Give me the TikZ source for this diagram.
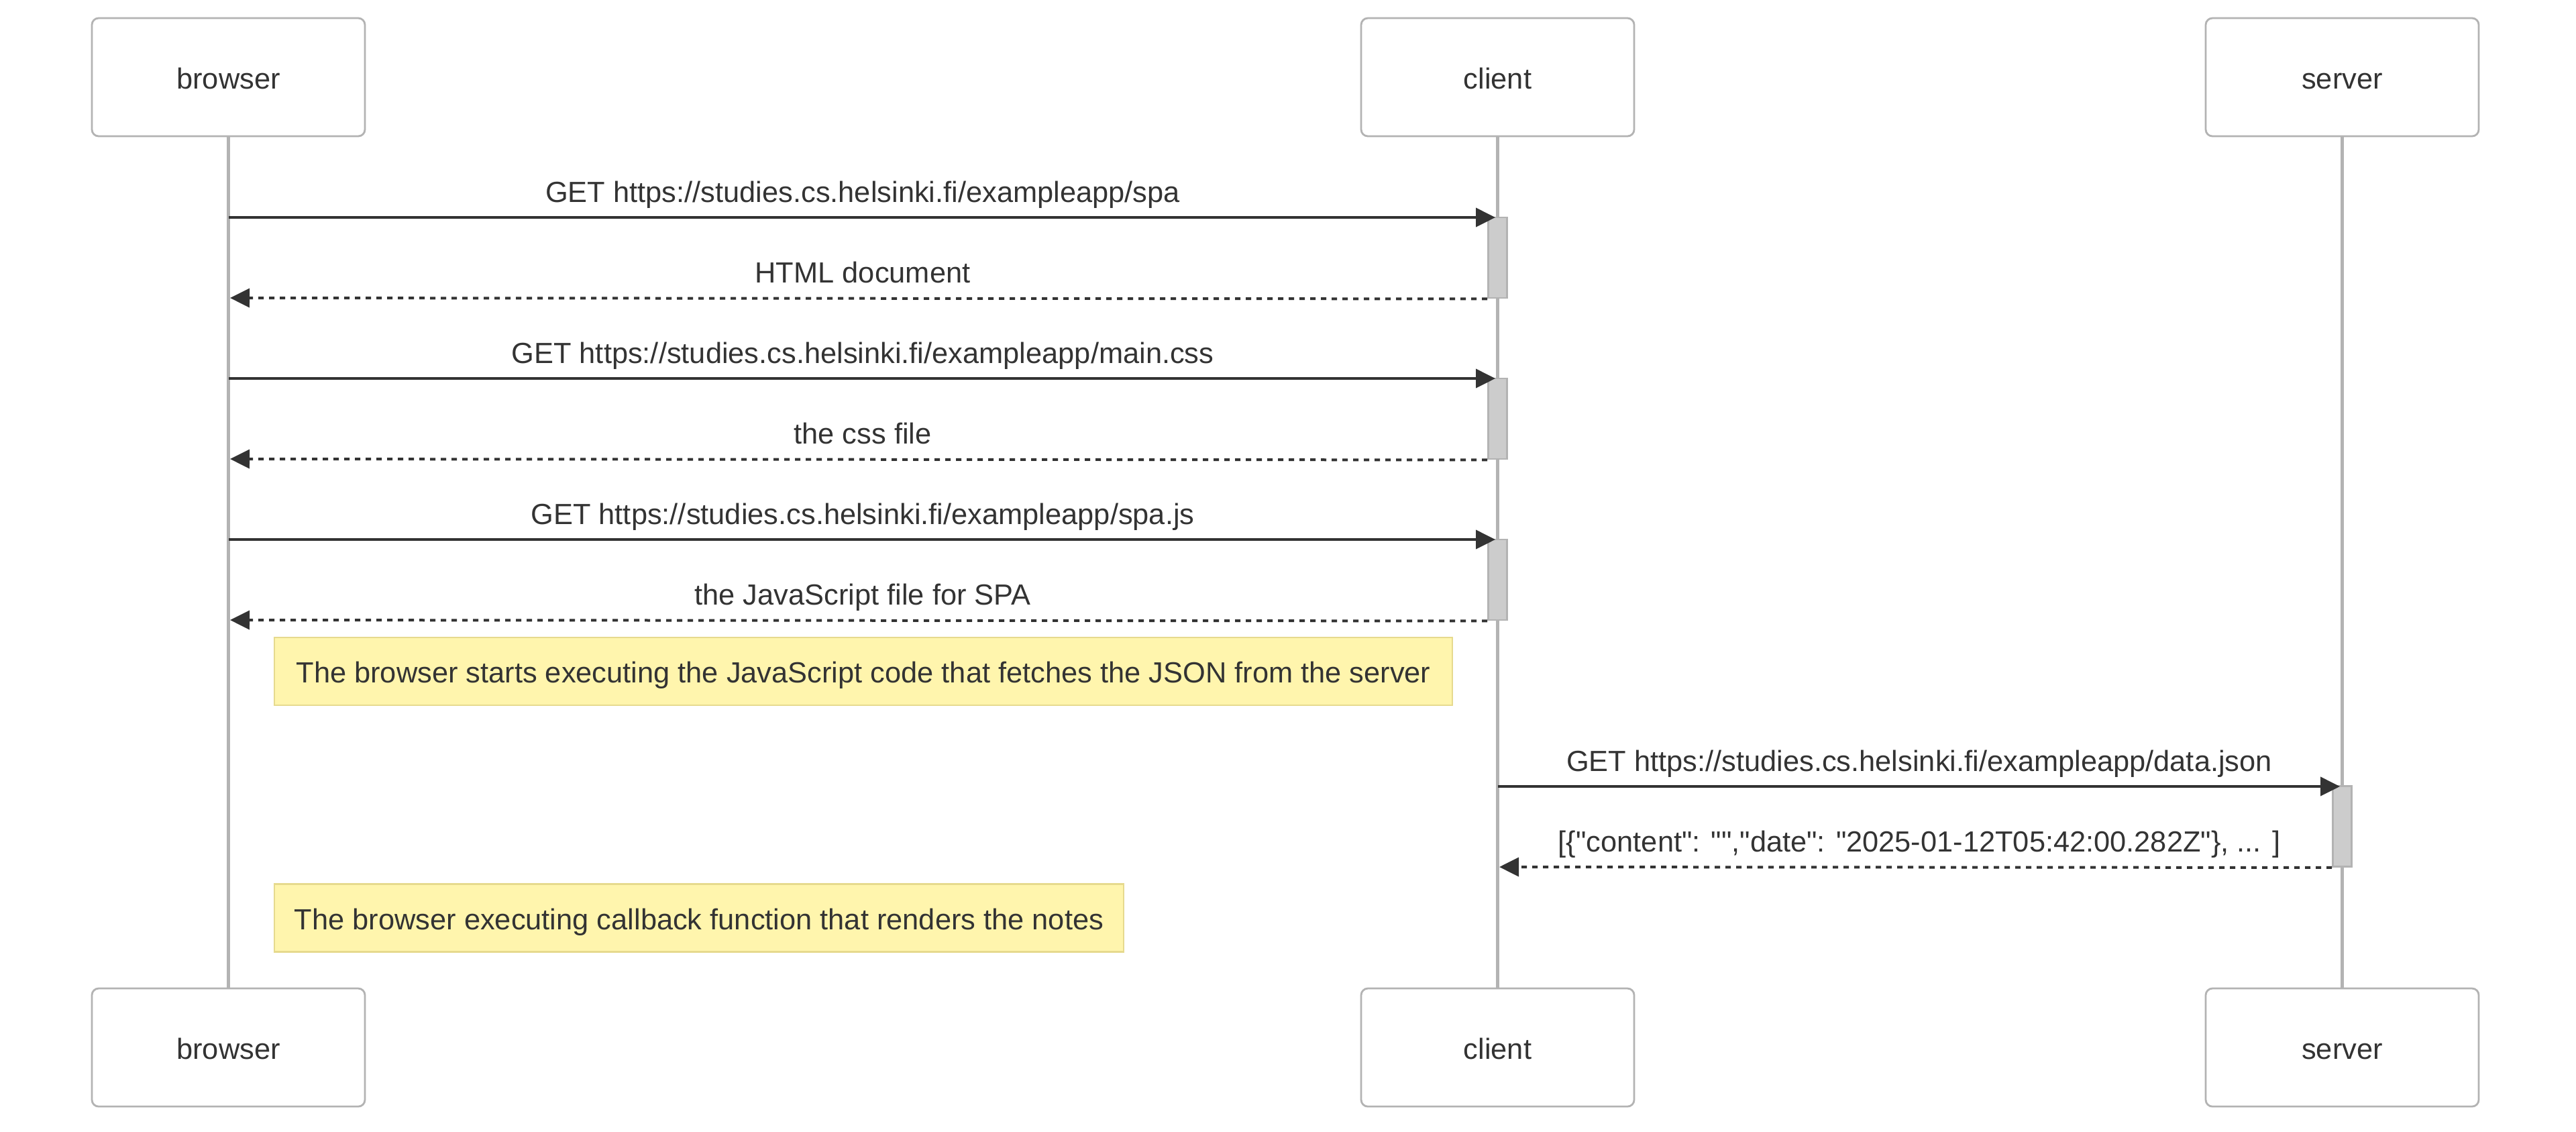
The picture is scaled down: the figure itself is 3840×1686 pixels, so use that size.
\documentclass[tikz,border=0pt]{standalone}
\usepackage{fontspec}
\newfontfamily\lblfont{Liberation Sans}
\usetikzlibrary{arrows.meta}
\definecolor{txt}{HTML}{333333}
\definecolor{grayline}{HTML}{B3B3B3}
\definecolor{actfill}{HTML}{CCCCCC}
\definecolor{notefill}{HTML}{FFF5AD}
\definecolor{noteline}{HTML}{E6DA8E}
\begin{document}
\begin{tikzpicture}[x=0.25pt,y=-0.25pt,
  every node/.style={font=\lblfont\fontsize{10.85}{13}\selectfont, text=txt},
  actor/.style={draw=grayline, line width=0.7pt, fill=white, rounded corners=2.5pt,
    minimum width=101.75pt, minimum height=44pt, inner sep=0pt, text height=0.95em, text depth=0.1em},
  lifeline/.style={draw=grayline, line width=1.2pt},
  actbar/.style={draw=grayline, fill=actfill, line width=0.7pt, minimum width=7pt,
    minimum height=30pt, inner sep=0pt},
  msg/.style={draw=txt, line width=1pt, -{Triangle[length=7.25pt,width=7pt]}},
  ret/.style={msg, dash pattern=on 2pt off 2pt},
  notebox/.style={draw=noteline, fill=notefill, line width=0.6pt, inner sep=0pt, minimum height=25.25pt,
    text height=0.95em, text depth=0.1em},
  lbl/.style={anchor=base, inner sep=0pt}
]
\useasboundingbox (0,0) rectangle (3840,1686);

% actors
\node[actor] (bt) at (340.5,115) {browser};
\node[actor] (ct) at (2232.5,115) {client};
\node[actor] (st) at (3491.5,115) {server};
\node[actor] (bb) at (340.5,1561) {browser};
\node[actor] (cb) at (2232.5,1561) {client};
\node[actor] (sb) at (3491.5,1561) {server};

% lifelines
\draw[lifeline] (bt.south) -- (bb.north);
\draw[lifeline] (ct.south) -- (cb.north);
\draw[lifeline] (st.south) -- (sb.north);

% activation bars
\node[actbar] (a1) at (2232.5,384) {};
\node[actbar] (a2) at (2232.5,624) {};
\node[actbar] (a3) at (2232.5,864) {};
\node[actbar] (a4) at (3491.5,1231.5) {};

% coordinates on lifelines
\coordinate (b1) at (341,324);
\coordinate (b2) at (343,444);
\coordinate (b3) at (341,564);
\coordinate (b4) at (343,684);
\coordinate (b5) at (341,804);
\coordinate (b6) at (343,924);
\coordinate (c7) at (2232.5,1172);
\coordinate (c8) at (2235,1292);
\coordinate (t1) at (2229,324);
\coordinate (t3) at (2229,564);
\coordinate (t5) at (2229,804);
\coordinate (t7) at (3488,1172);

% messages
\draw[msg] (b1) -- (t1);
\draw[ret] (a1.south west) -- (b2);
\draw[msg] (b3) -- (t3);
\draw[ret] (a2.south west) -- (b4);
\draw[msg] (b5) -- (t5);
\draw[ret] (a3.south west) -- (b6);
\draw[msg] (c7) -- (t7);
\draw[ret] (a4.south west) -- (c8);

% labels
\node[lbl] (l1) at (1286,301) {GET https://studies.cs.helsinki.fi/exampleapp/spa};
\node[lbl] (l2) at (1286,421) {HTML document};
\node[lbl] (l3) at (1286,541) {GET https://studies.cs.helsinki.fi/exampleapp/main.css};
\node[lbl] (l4) at (1286,661) {the css file};
\node[lbl] (l5) at (1286,781) {GET https://studies.cs.helsinki.fi/exampleapp/spa.js};
\node[lbl] (l6) at (1286,901) {the JavaScript file for SPA};
\node[lbl] (l7) at (2861,1149) {GET https://studies.cs.helsinki.fi/exampleapp/data.json};
\node[lbl] (l8) at (2861,1269) {[\{"content": "","date": "2025-01-12T05:42:00.282Z"\}, ... ]};

% notes
\node[notebox, minimum width=439pt] (n1) at (1287,1000.5) {The browser starts executing the JavaScript code that fetches the JSON from the server};
\node[notebox, minimum width=316.5pt] (n2) at (1042,1368) {The browser executing callback function that renders the notes};
\end{tikzpicture}
\end{document}
